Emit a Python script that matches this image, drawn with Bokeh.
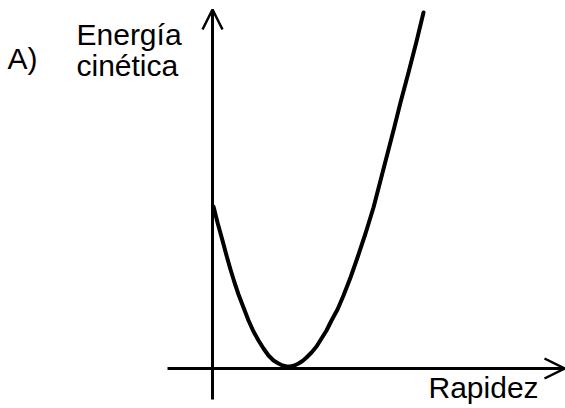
from bokeh.plotting import figure
from bokeh.models import Range1d, Arrow, OpenHead, ColumnDataSource
from bokeh.core.properties import value
from bokeh.embed import file_html
from bokeh.resources import INLINE

# Kinetic energy as a function of speed (arbitrary units)
speed = [1, 5, 10, 14, 18, 22, 26, 31, 36, 41, 46, 51, 56, 61, 66, 70, 74, 78,
         82, 86, 90, 94, 99, 104, 109, 114, 119, 125, 131, 138, 145, 153, 161,
         168, 175, 182, 188, 196, 204, 211]
energy = [162, 146, 128, 113, 99, 86, 74, 61, 48, 37, 28, 20, 13, 8, 5, 3, 2, 2,
          3, 5, 7.5, 11, 16, 22, 30, 38, 48, 59, 73, 91, 111, 135, 161,
          188, 215, 242, 266, 296, 327, 356]

# Axis extents
x_axis_start, x_axis_end = -45, 352
y_axis_start, y_axis_end = -31, 359

FONT = "Liberation Sans"
FS = "30px"

p = figure(width=565, height=408, output_backend="svg", toolbar_location=None,
           x_range=Range1d(-212, 353), y_range=Range1d(-40, 368),
           min_border=0, outline_line_color=None)
p.axis.visible = False
p.grid.visible = False
p.background_fill_color = "white"

# Axes with open arrow heads
p.add_layout(Arrow(x_start=x_axis_start, y_start=0, x_end=x_axis_end, y_end=0,
                   line_width=3, line_color="black",
                   end=OpenHead(size=20, line_width=2.5, line_color="black")))
p.add_layout(Arrow(x_start=0, y_start=y_axis_start, x_end=0, y_end=y_axis_end,
                   line_width=3, line_color="black",
                   end=OpenHead(size=20, line_width=2.5, line_color="black")))

# Curve
p.line(speed, energy, line_width=4, line_color="black", line_join="round", line_cap="round")

# Labels
labels = ColumnDataSource(dict(
    x=[-205, -136, -136, 216],
    y=[310, 334, 303, -19],
    t=["A)", "Energía", "cinética", "Rapidez"],
))
p.text(x="x", y="y", text="t", source=labels, text_font=value(FONT),
       text_font_size=FS, text_color="black", text_baseline="alphabetic",
       text_align="left")

open("out.html", "w").write(file_html(p, INLINE))
